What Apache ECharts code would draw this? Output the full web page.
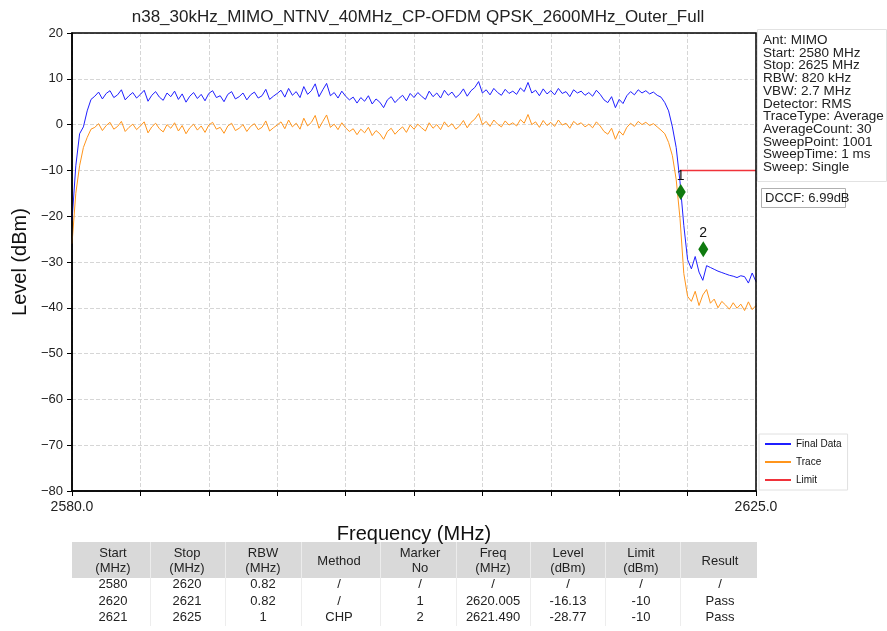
<!DOCTYPE html>
<html><head><meta charset="utf-8">
<script src="https://cdn.jsdelivr.net/npm/echarts@6/dist/echarts.min.js"></script>
<style>html,body{margin:0;padding:0;background:#fff}#c{width:887px;height:631px}</style>
</head><body><div id="c"></div>
<script>
// ---------- data ----------
const titleText = 'n38_30kHz_MIMO_NTNV_40MHz_CP-OFDM QPSK_2600MHz_Outer_Full';
const freqStart = 2580, freqStop = 2625, freqStep = 0.25; // sweep grid (MHz)
const finalData = [
 -21, -9, -2, -0.5, 3, 5.5,
 6.2, 7.1, 5.6, 6.8, 7.4, 5.9, 6.5, 7.6, 5.4, 6.3,
 7.0, 5.8, 6.6, 7.5, 5.1, 6.4, 7.2, 6.0, 5.3, 6.9,
 6.1, 7.3, 5.5, 6.7, 4.9, 6.2, 7.0, 5.7, 6.6, 5.2,
 6.8, 7.4, 5.9, 6.3, 5.0, 6.6, 7.2, 5.6, 6.1, 6.9,
 5.4, 6.5, 7.1, 5.8, 6.3, 7.7, 5.5, 6.2, 6.8, 7.5,
 6.0, 7.9, 6.4, 7.2, 5.9, 8.3, 6.6, 7.4, 8.9, 6.1,
 7.6, 9.0, 6.3, 7.0, 5.8, 7.3, 6.2, 5.4, 6.0, 4.7,
 5.9, 5.1, 6.3, 4.5, 5.6, 4.9, 3.7, 5.4, 6.1, 4.8,
 5.7, 6.4, 5.2, 6.8, 5.9, 7.0, 6.2, 5.5, 7.3, 6.1,
 6.9, 5.8, 7.5, 6.4, 7.1, 5.9, 6.6, 7.8, 6.2, 7.4,
 8.1, 9.4, 6.9, 7.6, 6.5, 7.9, 7.0, 6.4, 7.7, 6.8,
 7.3, 6.6, 8.0, 7.2, 9.2, 6.9, 7.5, 6.3, 7.8, 6.7,
 7.4, 6.5, 7.9, 6.8, 7.2, 6.1, 7.6, 6.9, 7.3, 6.4,
 7.0, 6.2, 7.5, 6.6, 5.4, 4.8, 6.1, 3.7, 5.5, 4.6,
 6.3, 7.2, 6.5, 7.6, 6.9, 7.4, 6.7, 7.1, 6.4, 6.0,
 4.8, 3.0, -0.5, -5.0, -12.5, -22.0,
 -29.5, -31.5, -28.8, -32.2, -34.0, -30.8, -31.2, -31.6, -32.0, -32.3,
 -32.6, -32.9, -33.1, -33.4, -33.0, -33.2, -34.6, -32.4, -34.3
];
const traceData = [
 -26, -15, -9, -5, -2.8, -1.0,
 -0.6, 0.2, -1.3, -0.2, 0.5, -1.0, -0.4, 0.7, -1.5, -0.6,
 0.1, -1.1, -0.3, 0.6, -1.8, -0.5, 0.3, -0.9, -1.6, 0.0,
 -0.8, 0.4, -1.4, -0.2, -2.0, -0.7, 0.1, -1.2, -0.3, -1.7,
 -0.1, 0.5, -1.0, -0.6, -1.9, -0.3, 0.3, -1.3, -0.8, 0.0,
 -1.5, -0.4, 0.2, -1.1, -0.6, 0.8, -1.4, -0.7, -0.1, 0.6,
 -0.9, 1.0, -0.5, 0.3, -1.0, 1.4, -0.3, 0.5, 2.0, -0.8,
 0.7, 2.1, -0.6, 0.1, -1.1, 0.4, -0.7, -1.5, -0.9, -2.2,
 -1.0, -1.8, -0.6, -2.4, -1.3, -2.0, -3.2, -1.5, -0.8, -2.1,
 -1.2, -0.5, -1.7, -0.1, -1.0, 0.1, -0.7, -1.4, 0.4, -0.8,
 0.0, -1.1, 0.6, -0.5, 0.2, -1.0, -0.3, 0.9, -0.7, 0.5,
 1.2, 2.4, 0.0, 0.7, -0.4, 1.0, 0.1, -0.5, 0.8, -0.1,
 0.4, -0.3, 1.1, 0.3, 2.2, 0.0, 0.6, -0.6, 0.9, -0.2,
 0.5, -0.4, 1.0, -0.1, 0.3, -0.8, 0.7, 0.0, 0.4, -0.5,
 0.1, -0.7, 0.6, -0.3, -1.5, -2.1, -0.8, -3.2, -1.4, -2.3,
 -0.6, 0.3, -0.4, 0.7, 0.0, 0.5, -0.2, 0.2, -0.5, -1.2,
 -2.0, -3.9, -6.8, -12.0, -20.5, -32.5, -37.5,
 -38.6, -36.4, -39.5, -37.2, -36.0, -39.0, -38.1, -40.0, -38.6, -39.4,
 -40.3, -38.9, -40.1, -39.2, -40.6, -38.7, -40.4, -39.5
];
const limitFreq = [2620, 2625];
const limitLevel = [-10, -10];
const markerNo = ['1', '2'];
const markerFreq = [2620.05, 2621.53];
const markerLevel = [-14.7, -27.2];
const xTickLabels = ['2580.0', '2625.0'];
const yMin = -80, yMax = 20, yStep = 10;
const infoLines = ['Ant: MIMO','Start: 2580 MHz','Stop: 2625 MHz','RBW: 820 kHz','VBW: 2.7 MHz','Detector: RMS','TraceType: Average','AverageCount: 30','SweepPoint: 1001','SweepTime: 1 ms','Sweep: Single'];
const dccfText = 'DCCF: 6.99dB';
const tableHeader = [['Start','(MHz)'],['Stop','(MHz)'],['RBW','(MHz)'],['Method'],['Marker','No'],['Freq','(MHz)'],['Level','(dBm)'],['Limit','(dBm)'],['Result']];
const tableRows = [
 ['2580','2620','0.82','/','/','/','/','/','/'],
 ['2620','2621','0.82','/','1','2620.005','-16.13','-10','Pass'],
 ['2621','2625','1','CHP','2','2621.490','-28.77','-10','Pass']
];

// ---------- layout ----------
const FONT = '"Liberation Sans", Arial, sans-serif';
const gridL = 72, gridT = 33, gridW = 684, gridH = 458;
const colX = [113,187,263,339,420,493,568,641,720];
const colB = [72,150,225,301,380,456,530,605,680,757];
const tabTop = 542, hdrH = 36, rowY = [584,601,617];

const off = f => f - freqStart;
const xs = finalData.map((_, i) => i * freqStep);

const graphics = [];
// plot frame
graphics.push({type:'rect', z:100, shape:{x:gridL, y:gridT, width:gridW, height:gridH}, style:{fill:'none', stroke:'#000', lineWidth:1.5}, silent:true});
// info box
graphics.push({type:'rect', shape:{x:757.5, y:29.5, width:129, height:152}, style:{fill:'none', stroke:'#e2e2e2', lineWidth:1}, silent:true});
graphics.push({type:'text', x:763, y:34, style:{text:infoLines.join('\n'), fontSize:13.5, fontFamily:FONT, fill:'#222', lineHeight:12.7}, silent:true});
graphics.push({type:'rect', shape:{x:761.5, y:188.5, width:84, height:19}, style:{fill:'#fff', stroke:'#b0b0b0', lineWidth:1}, silent:true});
graphics.push({type:'text', x:765, y:198, style:{text:dccfText, fontSize:13, fontFamily:FONT, fill:'#222', verticalAlign:'middle', textVerticalAlign:'middle'}, silent:true});
// table
graphics.push({type:'rect', shape:{x:colB[0], y:tabTop, width:colB[colB.length-1]-colB[0], height:hdrH}, style:{fill:'#d9d9d9'}, silent:true});
for (let k = 1; k < colB.length - 1; k++) {
  graphics.push({type:'line', shape:{x1:colB[k]+0.5, y1:tabTop, x2:colB[k]+0.5, y2:tabTop+hdrH}, style:{stroke:'#ececec', lineWidth:1}, silent:true});
  graphics.push({type:'line', shape:{x1:colB[k]+0.5, y1:tabTop+hdrH, x2:colB[k]+0.5, y2:626}, style:{stroke:'#ededed', lineWidth:1}, silent:true});
}
tableHeader.forEach((h, c) => {
  graphics.push({type:'text', x:colX[c], y:tabTop + hdrH/2 + 1, style:{text:h.join('\n'), fontSize:13, fontFamily:FONT, fill:'#222', align:'center', textAlign:'center', verticalAlign:'middle', textVerticalAlign:'middle', lineHeight:15}, silent:true});
});
tableRows.forEach((r, ri) => {
  r.forEach((v, c) => {
    graphics.push({type:'text', x:colX[c], y:rowY[ri], style:{text:v, fontSize:13, fontFamily:FONT, fill:'#222', align:'center', textAlign:'center', verticalAlign:'middle', textVerticalAlign:'middle'}, silent:true});
  });
});

const chart = echarts.init(document.getElementById('c'));
chart.setOption({
  backgroundColor:'#fff',
  animation:false,
  title:{text:titleText, left:413, top:4, textAlign:'center', textStyle:{fontFamily:FONT, fontSize:17, fontWeight:'normal', color:'#222'}},
  grid:{left:gridL, top:gridT, width:gridW, height:gridH, show:false},
  legend:{
    data:[{name:'Final Data', icon:'rect'},{name:'Trace', icon:'rect'},{name:'Limit', icon:'rect'}],
    orient:'vertical', left:759, top:434, itemWidth:26, itemHeight:2, itemGap:6,
    textStyle:{fontSize:10, fontFamily:FONT, color:'#111', lineHeight:12},
    backgroundColor:'#fff', borderColor:'#e0e0e0', borderWidth:1, padding:[4,6,4,6]
  },
  xAxis:{
    type:'value', min:0, max:off(freqStop), interval:4.5,
    axisLine:{show:true, onZero:false, lineStyle:{color:'#000', width:1.5}},
    axisTick:{show:true, length:5, lineStyle:{color:'#000', width:1}},
    axisLabel:{showMinLabel:true, showMaxLabel:true, hideOverlap:false, fontSize:14, fontFamily:FONT, color:'#222', margin:9,
      formatter:v => Math.abs(v) < 1e-6 ? xTickLabels[0] : (Math.abs(v - off(freqStop)) < 1e-6 ? xTickLabels[1] : '')},
    splitLine:{show:true, lineStyle:{color:'#d6d6d6', type:'dashed', width:1}},
    name:'Frequency (MHz)', nameLocation:'middle', nameGap:33, nameTextStyle:{fontSize:20, fontFamily:FONT, color:'#111'}
  },
  yAxis:{
    type:'value', min:yMin, max:yMax, interval:yStep,
    axisLine:{show:true, onZero:false, lineStyle:{color:'#000', width:1.5}},
    axisTick:{show:true, length:5, lineStyle:{color:'#000', width:1}},
    axisLabel:{fontSize:13, fontFamily:FONT, color:'#222', margin:9, formatter:v => String(v).replace('-', '\u2212')},
    splitLine:{show:true, lineStyle:{color:'#d6d6d6', type:'dashed', width:1}},
    name:'Level (dBm)', nameLocation:'middle', nameGap:41, nameRotate:90, nameTextStyle:{fontSize:20, fontFamily:FONT, color:'#111'}
  },
  series:[
    {name:'Trace', type:'line', data:xs.map((x,i)=>[x, traceData[i]]), symbol:'none', lineStyle:{color:'#ff951c', width:1}, itemStyle:{color:'#ff951c'}, z:2},
    {name:'Final Data', type:'line', data:xs.map((x,i)=>[x, finalData[i]]), symbol:'none', lineStyle:{color:'#1f1fff', width:1}, itemStyle:{color:'#1f1fff'}, z:3},
    {name:'Limit', type:'line', data:limitFreq.map((f,i)=>[off(f), limitLevel[i]]), symbol:'none', lineStyle:{color:'#f0323a', width:1.5}, itemStyle:{color:'#f0323a'}, z:4},
    {name:'Markers', type:'scatter', data:markerFreq.map((f,i)=>({value:[off(f), markerLevel[i]], name:markerNo[i]})),
      symbol:'diamond', symbolSize:[10,16], itemStyle:{color:'#0f7a0f', opacity:1}, z:5,
      label:{show:true, position:'top', distance:1, formatter:p => p.name, fontSize:14, fontFamily:FONT, color:'#111'}}
  ],
  graphic:graphics
});
</script>
</body></html>
